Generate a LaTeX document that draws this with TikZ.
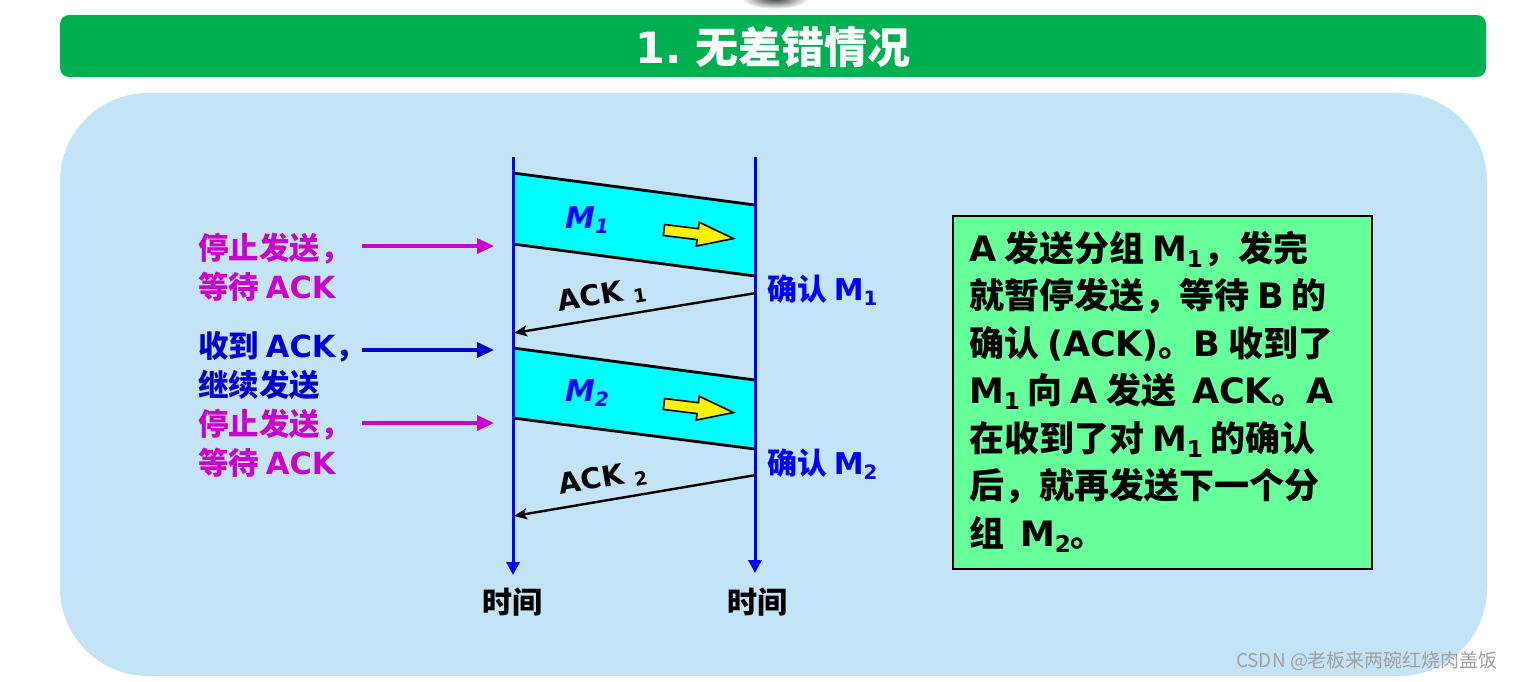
\documentclass[tikz,border=0pt]{standalone}
\usepackage{fontspec}
\setmainfont{Noto Sans CJK SC}
\newfontfamily\djv{DejaVu Sans}
\newfontfamily\latf{DejaVu Sans}
\newcommand\ltn[1]{{\latf\bfseries #1}}
\usetikzlibrary{arrows.meta}
\definecolor{hdrgreen}{RGB}{0,176,80}
\definecolor{panelblue}{RGB}{195,227,247}
\definecolor{pktcyan}{RGB}{0,255,255}
\definecolor{descgreen}{RGB}{102,255,153}
\definecolor{labmag}{RGB}{204,0,204}
\definecolor{labblue}{RGB}{0,0,204}
\definecolor{lineblue}{RGB}{0,0,255}
\definecolor{wmgray}{RGB}{160,160,160}
\newcommand\mysub[1]{\raisebox{-0.3ex}{\scalebox{0.66}{#1}}}
\begin{document}
\begin{tikzpicture}[x=1pt,y=-1pt,
  every node/.style={inner sep=0pt,outer sep=0pt},
  timeline/.style={draw=lineblue,line width=3pt,-{Triangle[length=13pt,width=13pt]}},
  pktedge/.style={draw=black,line width=2.8pt},
  pktfill/.style={fill=pktcyan},
  ackline/.style={draw=black,line width=2.4pt,-{Stealth[length=13pt,width=11pt,inset=3pt]}},
  sidearrow/.style={line width=3.2pt,-{Triangle[length=17pt,width=15pt]}},
  sidelabel/.style={anchor=west,align=left,font=\fontsize{30.5}{39}\selectfont\bfseries},
  timelabel/.style={font=\fontsize{30}{30}\selectfont\bfseries},
  acklabel/.style={font=\fontsize{28.5}{28.5}\selectfont\bfseries,rotate=9.4},
  conflabel/.style={anchor=west,text=lineblue,font=\fontsize{30}{30}\selectfont\bfseries},
  pktlabel/.style={text=lineblue,font=\djv\fontsize{30}{30}\selectfont\bfseries\itshape},
  bigarrow/.style={fill=yellow,draw=black,line width=1.6pt,line join=miter},
]
\useasboundingbox (0,0) rectangle (1519,681);
% top partial blob
\shade[inner color=black!80,outer color=white] (775,-2) ellipse [x radius=34,y radius=11];
% header
\fill[hdrgreen,rounded corners=9pt] (60,15) rectangle (1486,77);
\node[text=white,font=\fontsize{43}{43}\selectfont\bfseries] (title) at (773,47) {\ltn{1.} 无差错情况};
% panel
\fill[panelblue,rounded corners=88pt] (60,93) rectangle (1487,676);

% packets
\coordinate (m1a) at (513,173); \coordinate (m1b) at (755,205);
\coordinate (m1c) at (755,276); \coordinate (m1d) at (513,244);
\coordinate (m2a) at (513,348); \coordinate (m2b) at (755,380);
\coordinate (m2c) at (755,449); \coordinate (m2d) at (513,418);
\fill[pktfill] (m1a) -- (m1b) -- (m1c) -- (m1d) -- cycle;
\fill[pktfill] (m2a) -- (m2b) -- (m2c) -- (m2d) -- cycle;
\draw[pktedge] (m1a) -- (m1b);
\draw[pktedge] (m1d) -- (m1c);
\draw[pktedge] (m2a) -- (m2b);
\draw[pktedge] (m2d) -- (m2c);

% yellow arrows
\begin{scope}[shift={(664,230)},rotate=-7]
\draw[bigarrow] (0,-5.5) -- (34,-5.5) -- (34,-12) -- (70,0) -- (34,12) -- (34,5.5) -- (0,5.5) -- cycle;
\end{scope}
\begin{scope}[shift={(664,404)},rotate=-7]
\draw[bigarrow] (0,-5.5) -- (34,-5.5) -- (34,-12) -- (70,0) -- (34,12) -- (34,5.5) -- (0,5.5) -- cycle;
\end{scope}

% time lines
\coordinate (Atop) at (513,157); \coordinate (Abot) at (513,575);
\coordinate (Btop) at (755,157); \coordinate (Bbot) at (755,573);
\draw[timeline] (Atop) -- (Abot);
\draw[timeline] (Btop) -- (Bbot);
\node[timelabel] (tA) at (512,602) {时间};
\node[timelabel] (tB) at (757,602) {时间};

% ack arrows
\coordinate (ack1s) at (756,293); \coordinate (ack1e) at (514,333);
\coordinate (ack2s) at (756,475); \coordinate (ack2e) at (514,516);
\draw[ackline] (ack1s) -- (ack1e);
\draw[ackline] (ack2s) -- (ack2e);
\node[acklabel] (ack1lab) at (602,296) {\ltn{ACK \mysub{1}}};
\node[acklabel] (ack2lab) at (603,479) {\ltn{ACK \mysub{2}}};

% labels on B side
\node[conflabel] (conf1) at (767,290) {确认 \ltn{M\mysub{1}}};
\node[conflabel] (conf2) at (767,464) {确认 \ltn{M\mysub{2}}};

% packet labels
\node[pktlabel] (m1lab) at (587,220) {M\mysub{1}};
\node[pktlabel] (m2lab) at (587,393) {M\mysub{2}};

% side labels
\node[sidelabel,text=labmag] (stop1) at (198,267) {停止发送，\\等待 \ltn{ACK}};
\node[sidelabel,text=labblue] (recv) at (198,366) {收到 \ltn{ACK}，\\继续发送};
\node[sidelabel,text=labmag] (stop2) at (198,443) {停止发送，\\等待 \ltn{ACK}};
\coordinate (p1s) at (362,246); \coordinate (p1e) at (494,246);
\coordinate (p2s) at (362,350); \coordinate (p2e) at (494,350);
\coordinate (p3s) at (362,423); \coordinate (p3e) at (494,423);
\draw[sidearrow,labmag] (p1s) -- (p1e);
\draw[sidearrow,labblue] (p2s) -- (p2e);
\draw[sidearrow,labmag] (p3s) -- (p3e);

% description box
\node[draw=black,line width=2pt,fill=descgreen,minimum width=419pt,minimum height=353pt] (descbox) at (1162.5,392.5) {};
\node[anchor=west,align=left,font=\fontsize{35}{47.5}\selectfont\bfseries] (desc) at (969,391.5)
  {\ltn{A} 发送分组 \ltn{M\mysub{1}}，发完\\
   就暂停发送，等待 \ltn{B} 的\\
   确认 \ltn{(ACK)}。\ltn{B} 收到了\\
   \ltn{M\mysub{1}} 向 \ltn{A} 发送 \ \ltn{ACK}。\ltn{A}\\
   在收到了对 \ltn{M\mysub{1}} 的确认\\
   后，就再发送下一个分\\
   组 \ \ltn{M\mysub{2}}。};

% watermark
\node[text=wmgray,font=\fontsize{19}{19}\selectfont] (wm) at (1367,661) {CSDN @老板来两碗红烧肉盖饭};
\end{tikzpicture}
\end{document}
